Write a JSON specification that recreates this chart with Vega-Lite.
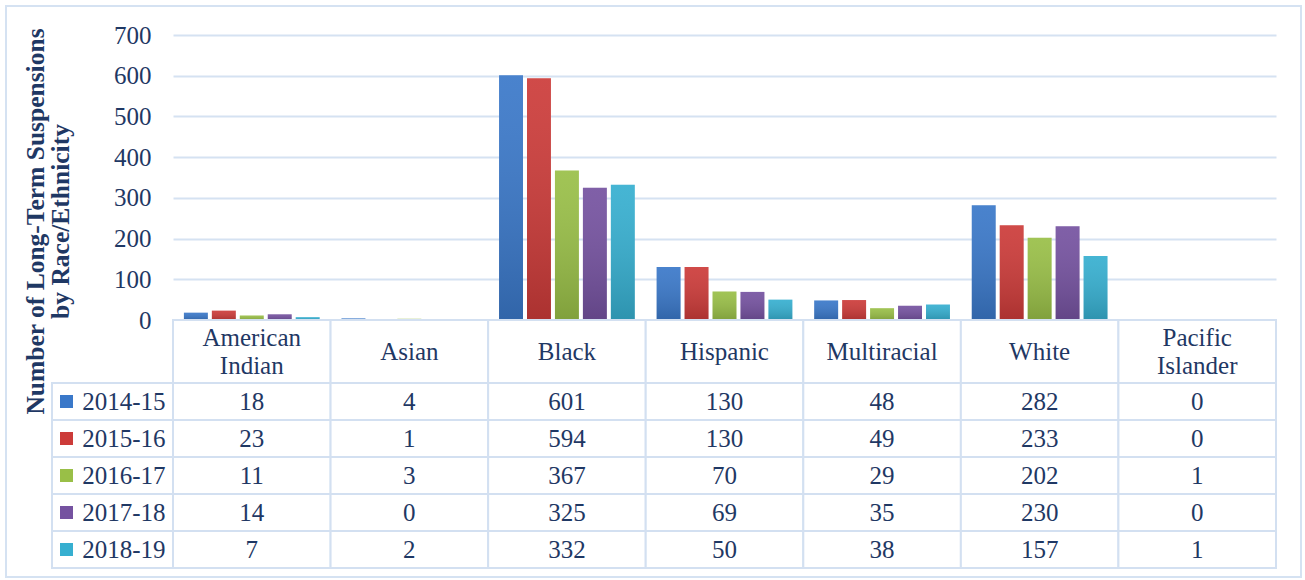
{
  "$schema": "https://vega.github.io/schema/vega-lite/v6.json",
  "padding": {"left": 5, "top": 5, "right": 2, "bottom": 2},
  "background": "white",
  "config": {
    "font": "Liberation Serif",
    "view": {"stroke": null},
    "text": {"font": "Liberation Serif"},
    "axis": {"labelFont": "Liberation Serif", "labelFontSize": 25, "labelColor": "#1f3864", "titleFont": "Liberation Serif"}
  },
  "datasets": {
    "main": [
      {"cat": "American Indian", "year": "2014-15", "v": 18},
      {"cat": "American Indian", "year": "2015-16", "v": 23},
      {"cat": "American Indian", "year": "2016-17", "v": 11},
      {"cat": "American Indian", "year": "2017-18", "v": 14},
      {"cat": "American Indian", "year": "2018-19", "v": 7},
      {"cat": "Asian", "year": "2014-15", "v": 4},
      {"cat": "Asian", "year": "2015-16", "v": 1},
      {"cat": "Asian", "year": "2016-17", "v": 3},
      {"cat": "Asian", "year": "2017-18", "v": 0},
      {"cat": "Asian", "year": "2018-19", "v": 2},
      {"cat": "Black", "year": "2014-15", "v": 601},
      {"cat": "Black", "year": "2015-16", "v": 594},
      {"cat": "Black", "year": "2016-17", "v": 367},
      {"cat": "Black", "year": "2017-18", "v": 325},
      {"cat": "Black", "year": "2018-19", "v": 332},
      {"cat": "Hispanic", "year": "2014-15", "v": 130},
      {"cat": "Hispanic", "year": "2015-16", "v": 130},
      {"cat": "Hispanic", "year": "2016-17", "v": 70},
      {"cat": "Hispanic", "year": "2017-18", "v": 69},
      {"cat": "Hispanic", "year": "2018-19", "v": 50},
      {"cat": "Multiracial", "year": "2014-15", "v": 48},
      {"cat": "Multiracial", "year": "2015-16", "v": 49},
      {"cat": "Multiracial", "year": "2016-17", "v": 29},
      {"cat": "Multiracial", "year": "2017-18", "v": 35},
      {"cat": "Multiracial", "year": "2018-19", "v": 38},
      {"cat": "White", "year": "2014-15", "v": 282},
      {"cat": "White", "year": "2015-16", "v": 233},
      {"cat": "White", "year": "2016-17", "v": 202},
      {"cat": "White", "year": "2017-18", "v": 230},
      {"cat": "White", "year": "2018-19", "v": 157},
      {"cat": "Pacific Islander", "year": "2014-15", "v": 0},
      {"cat": "Pacific Islander", "year": "2015-16", "v": 0},
      {"cat": "Pacific Islander", "year": "2016-17", "v": 1},
      {"cat": "Pacific Islander", "year": "2017-18", "v": 0},
      {"cat": "Pacific Islander", "year": "2018-19", "v": 1}
    ],
    "header": [
      {"cat": "American Indian", "label": "American\nIndian", "lines": 2},
      {"cat": "Asian", "label": "Asian", "lines": 1},
      {"cat": "Black", "label": "Black", "lines": 1},
      {"cat": "Hispanic", "label": "Hispanic", "lines": 1},
      {"cat": "Multiracial", "label": "Multiracial", "lines": 1},
      {"cat": "White", "label": "White", "lines": 1},
      {"cat": "Pacific Islander", "label": "Pacific\nIslander", "lines": 2}
    ],
    "years": [
      {"year": "2014-15"},
      {"year": "2015-16"},
      {"year": "2016-17"},
      {"year": "2017-18"},
      {"year": "2018-19"}
    ]
  },
  "spacing": 0,
  "bounds": "flush",
  "vconcat": [
    {
      "width": 1103,
      "height": 285,
      "layer": [
        {
          "data": {"values": [{}]},
          "mark": {"type": "rect", "filled": false, "color": "#d5e2f2", "strokeWidth": 2},
          "encoding": {
            "x": {"datum": 0, "type": "quantitative", "scale": {"domain": [0, 1], "range": [-167, 1128], "nice": false, "zero": false}, "axis": null},
            "x2": {"datum": 1},
            "y": {"datum": 0, "type": "quantitative", "scale": {"domain": [0, 1], "range": [-29, 542], "nice": false, "zero": false}, "axis": null},
            "y2": {"datum": 1}
          }
        },
        {
          "data": {"name": "main"},
          "mark": {"type": "bar"},
          "encoding": {
            "x": {"field": "cat", "type": "nominal", "sort": ["American Indian", "Asian", "Black", "Hispanic", "Multiracial", "White", "Pacific Islander"], "scale": {"paddingInner": 0, "paddingOuter": 0}, "axis": null},
            "xOffset": {"field": "year", "type": "nominal", "scale": {"paddingInner": 0.143, "paddingOuter": 0.39}},
            "y": {
              "field": "v", "type": "quantitative",
              "scale": {"domain": [0, 700], "nice": false},
              "axis": {
                "orient": "left",
                "values": [0, 100, 200, 300, 400, 500, 600, 700],
                "title": ["Number of Long-Term Suspensions", "by Race/Ethnicity"],
                "titleFont": "Liberation Serif", "titleFontWeight": "bold", "titleFontSize": 25.5,
                "titleColor": "#1f3864", "titleLineHeight": 25,
                "titleX": -125, "titleY": 186,
                "labelFont": "Liberation Serif", "labelFontSize": 25, "labelColor": "#1f3864",
                "labelPadding": 22, "ticks": false, "domain": false,
                "grid": true, "gridColor": "#d5e2f2", "gridWidth": 2
              }
            },
            "color": {
              "field": "year", "type": "nominal",
              "scale": {"domain": ["2014-15", "2015-16", "2016-17", "2017-18", "2018-19"], "range": ["#3a78c9", "#cc3b39", "#99bf47", "#7552a0", "#36afd0"]},
              "legend": null
            }
          }
        },
        {
          "data": {"name": "main"},
          "mark": {"type": "bar", "color": {"gradient": "linear", "x1": 0, "y1": 0, "x2": 0, "y2": 1, "stops": [{"offset": 0, "color": "rgba(255,255,255,0.08)"}, {"offset": 1, "color": "rgba(0,0,0,0.16)"}]}},
          "encoding": {
            "x": {"field": "cat", "type": "nominal", "sort": ["American Indian", "Asian", "Black", "Hispanic", "Multiracial", "White", "Pacific Islander"], "scale": {"paddingInner": 0, "paddingOuter": 0}, "axis": null},
            "xOffset": {"field": "year", "type": "nominal", "scale": {"paddingInner": 0.143, "paddingOuter": 0.39}},
            "y": {"field": "v", "type": "quantitative", "scale": {"domain": [0, 700], "nice": false}, "axis": null}
          }
        }
      ],
      "resolve": {"scale": {"x": "independent", "y": "independent"}}
    },
    {
      "width": 1103,
      "height": 63,
      "data": {"name": "header"},
      "layer": [
        {
          "mark": {"type": "rect", "fill": "white", "stroke": "#d3e0f1", "strokeWidth": 2},
          "encoding": {
            "x": {"field": "cat", "type": "nominal", "sort": ["American Indian", "Asian", "Black", "Hispanic", "Multiracial", "White", "Pacific Islander"], "scale": {"paddingInner": 0, "paddingOuter": 0}, "axis": null}
          }
        },
        {
          "transform": [{"filter": "datum.lines == 1"}],
          "mark": {"type": "text", "font": "Liberation Serif", "fontSize": 25, "color": "#1f3864", "baseline": "middle"},
          "encoding": {
            "x": {"field": "cat", "type": "nominal", "sort": ["American Indian", "Asian", "Black", "Hispanic", "Multiracial", "White", "Pacific Islander"], "scale": {"paddingInner": 0, "paddingOuter": 0}, "axis": null},
            "text": {"field": "label", "type": "nominal"}
          }
        },
        {
          "transform": [{"filter": "datum.lines == 2"}],
          "mark": {"type": "text", "font": "Liberation Serif", "fontSize": 25, "color": "#1f3864", "lineBreak": "\n", "lineHeight": 28, "baseline": "middle", "dy": -14},
          "encoding": {
            "x": {"field": "cat", "type": "nominal", "sort": ["American Indian", "Asian", "Black", "Hispanic", "Multiracial", "White", "Pacific Islander"], "scale": {"paddingInner": 0, "paddingOuter": 0}, "axis": null},
            "text": {"field": "label", "type": "nominal"}
          }
        }
      ]
    },
    {
      "width": 1103,
      "height": 185,
      "layer": [
        {
          "data": {"name": "years"},
          "mark": {"type": "rect", "fill": "white", "stroke": "#d3e0f1", "strokeWidth": 2},
          "encoding": {
            "x": {"datum": "leg", "type": "nominal", "scale": {"type": "band", "range": [-121, 0], "paddingInner": 0, "paddingOuter": 0}, "axis": null},
            "y": {
              "field": "year", "type": "nominal",
              "scale": {"domain": ["2014-15", "2015-16", "2016-17", "2017-18", "2018-19"], "paddingInner": 0, "paddingOuter": 0},
              "axis": {"title": null, "labelFont": "Liberation Serif", "labelFontSize": 25, "labelColor": "#1f3864", "labelPadding": 8, "ticks": false, "domain": false}
            }
          }
        },
        {
          "data": {"name": "years"},
          "mark": {"type": "point", "shape": "square", "filled": true, "size": 169, "opacity": 1},
          "encoding": {
            "x": {"datum": "sq", "type": "nominal", "scale": {"type": "point", "range": [-106.5, -106.5]}, "axis": null},
            "y": {"field": "year", "type": "nominal"},
            "color": {
              "field": "year", "type": "nominal",
              "scale": {"domain": ["2014-15", "2015-16", "2016-17", "2017-18", "2018-19"], "range": ["#3a78c9", "#cc3b39", "#99bf47", "#7552a0", "#36afd0"]},
              "legend": null
            }
          }
        },
        {
          "data": {"name": "main"},
          "mark": {"type": "rect", "fill": "white", "stroke": "#d3e0f1", "strokeWidth": 2},
          "encoding": {
            "x": {"field": "cat", "type": "nominal", "sort": ["American Indian", "Asian", "Black", "Hispanic", "Multiracial", "White", "Pacific Islander"], "scale": {"paddingInner": 0, "paddingOuter": 0}, "axis": null},
            "y": {"field": "year", "type": "nominal"}
          }
        },
        {
          "data": {"name": "main"},
          "mark": {"type": "text", "font": "Liberation Serif", "fontSize": 25, "color": "#1f3864", "baseline": "middle"},
          "encoding": {
            "x": {"field": "cat", "type": "nominal", "sort": ["American Indian", "Asian", "Black", "Hispanic", "Multiracial", "White", "Pacific Islander"], "scale": {"paddingInner": 0, "paddingOuter": 0}, "axis": null},
            "y": {"field": "year", "type": "nominal"},
            "text": {"field": "v", "type": "quantitative"}
          }
        }
      ],
      "resolve": {"scale": {"x": "independent"}}
    }
  ]
}
